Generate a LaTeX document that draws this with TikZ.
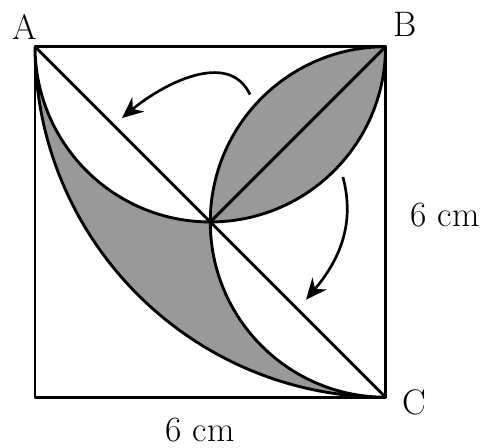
\documentclass[tikz,border=0pt]{standalone}
\usepackage{tikz}
\usetikzlibrary{arrows.meta, positioning, calc}
\definecolor{cShade}{HTML}{999999}

\begin{document}
\begin{tikzpicture}[
  font=\LARGE,
  >=Stealth,
  edge/.style  = {line width=1.4pt, line join=round},
  shade/.style = {edge, fill=cShade},
  rot/.style   = {->, line width=1.3pt, -{Stealth[length=3.6mm, width=3.2mm, inset=1.2mm]}},
  lbl/.style   = {inner sep=1pt}]

\useasboundingbox (-0.6,-0.86) rectangle (7.72,6.8);

% ---- corners and centre ----------------------------------------------------
\coordinate (A) at (0,6);
\coordinate (B) at (6,6);
\coordinate (C) at (6,0);
\coordinate (D) at (0,0);
\coordinate (O) at (3,3);

% ---- shaded leaf at B ------------------------------------------------------
\draw[shade] (O) arc[start angle=270, end angle=360, radius=3]
                 arc[start angle=90, end angle=180, radius=3] -- cycle;

% ---- shaded crescent from A to C -------------------------------------------
\draw[shade] (A) arc[start angle=180, end angle=270, radius=6]
                 arc[start angle=270, end angle=180, radius=3]
                 arc[start angle=270, end angle=180, radius=3] -- cycle;

% ---- square and diagonals --------------------------------------------------
\draw[edge] (A) -- (B) -- (C) -- (D) -- cycle;
\draw[edge] (A) -- (C);
\draw[edge] (O) -- (B);

% ---- rotation arrows -------------------------------------------------------
\coordinate (r1s) at (3.68,5.18);
\coordinate (r1e) at (1.49,4.78);
\coordinate (r2s) at (5.27,3.77);
\coordinate (r2e) at (4.64,1.67);
\draw[rot] (r1s) to[out=115, in=40] (r1e);
\draw[rot] (r2s) to[out=-75, in=50] (r2e);

% ---- labels ----------------------------------------------------------------
\node[lbl] (la) at (-0.17,6.34) {A};
\node[lbl] (lb) at (6.34,6.38) {B};
\node[lbl] (lc) at (6.5,-0.09) {C};
\node[lbl] (side) at (7.02,3.12) {6 cm};
\node[lbl] (base) at (2.83,-0.57) {6 cm};

\end{tikzpicture}
\end{document}
